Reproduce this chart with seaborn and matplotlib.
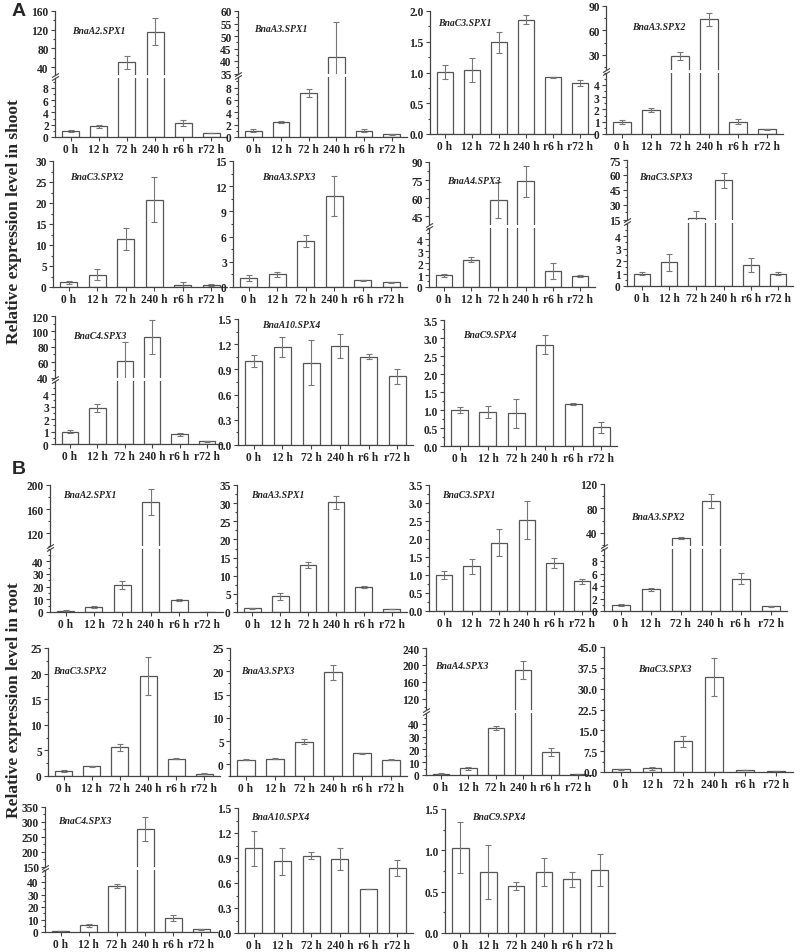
import numpy as np
import pandas as pd
import matplotlib
matplotlib.use("Agg")
import matplotlib.pyplot as plt
import seaborn as sns
from matplotlib.ticker import AutoMinorLocator, FormatStrFormatter

# ---- data ----
timepoints = ["0 h", "12 h", "72 h", "240 h", "r6 h", "r72 h"]

genes = ["BnaA2.SPX1", "BnaA3.SPX1", "BnaC3.SPX1", "BnaA3.SPX2",
         "BnaC3.SPX2", "BnaA3.SPX3", "BnaA4.SPX3", "BnaC3.SPX3",
         "BnaC4.SPX3", "BnaA10.SPX4", "BnaC9.SPX4"]

shoot_means = [
    [1.0, 1.75, 50, 116, 2.3, 0.65],
    [1.0, 2.4, 7.1, 41.5, 1.05, 0.45],
    [1.01, 1.04, 1.49, 1.86, 0.92, 0.83],
    [1.0, 1.95, 29, 74, 1.0, 0.38],
    [1.1, 2.9, 11.4, 20.8, 0.55, 0.5],
    [1.05, 1.5, 5.5, 10.85, 0.8, 0.55],
    [1.0, 2.3, 58.6, 74, 1.35, 0.92],
    [1.0, 1.9, 16.7, 54.5, 1.7, 1.0],
    [1.0, 2.9, 61.5, 93, 0.78, 0.22],
    [1.0, 1.17, 0.98, 1.18, 1.05, 0.82],
    [1.01, 0.95, 0.91, 2.81, 1.17, 0.52],
]
shoot_errs = [
    [0.2, 0.25, 14, 28, 0.5, 0.05],
    [0.25, 0.2, 0.7, 14, 0.2, 0.1],
    [0.12, 0.19, 0.17, 0.07, 0.01, 0.05],
    [0.15, 0.2, 5, 8, 0.18, 0.03],
    [0.3, 1.3, 2.7, 5.4, 0.6, 0.2],
    [0.35, 0.3, 0.75, 2.35, 0.05, 0.05],
    [0.12, 0.22, 15, 13, 0.7, 0.1],
    [0.12, 0.7, 6.5, 7.8, 0.55, 0.15],
    [0.12, 0.3, 24.5, 22, 0.1, 0.05],
    [0.07, 0.12, 0.27, 0.14, 0.03, 0.09],
    [0.08, 0.17, 0.4, 0.26, 0.02, 0.16],
]

root_means = [
    [1.0, 4.2, 21, 172, 9.2, 0.3],
    [1.0, 4.3, 13.0, 30.2, 6.9, 0.85],
    [1.0, 1.24, 1.9, 2.53, 1.33, 0.82],
    [1.0, 3.5, 31.5, 92, 5.2, 0.8],
    [1.0, 1.9, 5.6, 19.6, 3.4, 0.45],
    [1.0, 1.25, 4.9, 19.8, 2.4, 1.0],
    [1.0, 5.2, 37, 188, 18, 0.8],
    [1.0, 1.3, 11.1, 34.3, 0.7, 0.4],
    [1.0, 5.3, 37, 275, 11, 2.2],
    [1.02, 0.86, 0.93, 0.89, 0.53, 0.78],
    [1.03, 0.74, 0.57, 0.74, 0.65, 0.76],
]
root_errs = [
    [0.3, 0.7, 3.2, 21, 0.8, 0.05],
    [0.15, 0.9, 0.8, 1.8, 0.4, 0.1],
    [0.11, 0.2, 0.37, 0.52, 0.14, 0.08],
    [0.15, 0.25, 2, 12, 0.9, 0.08],
    [0.2, 0.1, 0.7, 3.7, 0.15, 0.05],
    [0.15, 0.05, 0.5, 1.6, 0.1, 0.05],
    [0.2, 1.2, 1.5, 21, 3, 0.1],
    [0.1, 0.6, 2, 6.9, 0.1, 0.05],
    [0.2, 1.5, 1.5, 40, 2.5, 0.5],
    [0.21, 0.16, 0.04, 0.13, 0.0, 0.1],
    [0.31, 0.33, 0.05, 0.17, 0.09, 0.19],
]

# ---- layout (pixel boxes: left, right, top, bottom) ----
W, H = 800, 953
shoot_boxes = [(55, 227, 12, 138), (238, 407, 12, 138), (430, 595, 12, 135), (606, 783, 7, 135),
               (53, 227, 162, 288), (233, 407, 162, 288), (429, 595, 163, 288), (627, 793, 161, 287),
               (55, 222, 317, 445), (238, 413, 320, 446), (444, 617, 321, 447)]
root_boxes = [(50, 223, 486, 613), (237, 407, 486, 613), (429, 597, 486, 612), (604, 787, 485, 612),
              (48, 220, 649, 777), (230, 407, 649, 777), (426, 593, 649, 776), (604, 793, 648, 773),
              (45, 217, 808, 933), (238, 413, 809, 934), (445, 615, 810, 934)]

shoot_axes = [
    dict(lo=(0, 9.7), lo_step=2, hi=(24, 160), hi_ticks=(40, 160, 40), brk=77),
    dict(lo=(0, 9.8), lo_step=2, hi=(35, 60), hi_ticks=(35, 60, 5), brk=76),
    dict(ylim=(0, 2.0), step=0.5, fmt="%.1f"),
    dict(lo=(0, 5), lo_step=1, hi=(12, 90), hi_ticks=(30, 90, 30), brk=72),
    dict(ylim=(0, 30), step=5),
    dict(ylim=(0, 15), step=3),
    dict(lo=(0, 5), lo_step=1, hi=(38, 90), hi_ticks=(45, 90, 15), brk=227),
    dict(lo=(0, 5.1), lo_step=1, hi=(15, 75), hi_ticks=(15, 75, 15), brk=222),
    dict(lo=(0, 5.1), lo_step=1, hi=(40, 120), hi_ticks=(40, 120, 20), brk=380),
    dict(ylim=(0, 1.5), step=0.3, fmt="%.1f"),
    dict(ylim=(0, 3.5), step=0.5, fmt="%.1f"),
]
root_axes = [
    dict(lo=(0, 50), lo_step=10, hi=(100, 200), hi_ticks=(120, 200, 40), brk=548),
    dict(ylim=(0, 35), step=5),
    dict(ylim=(0, 3.5), step=0.5, fmt="%.1f"),
    dict(lo=(0, 10), lo_step=2, hi=(19, 120), hi_ticks=(40, 120, 40), brk=548),
    dict(ylim=(0, 25), step=5),
    dict(ylim=(-2.5, 25), step=5, tick0=0),
    dict(lo=(0, 49), lo_step=10, hi=(94, 240), hi_ticks=(120, 240, 40), brk=712),
    dict(ylim=(0, 45), step=7.5, fmt="%.1f"),
    dict(lo=(0, 50), lo_step=10, hi=(150, 350), hi_ticks=(150, 350, 50), brk=869),
    dict(ylim=(0, 1.5), step=0.3, fmt="%.1f"),
    dict(ylim=(0, 1.5), step=0.5, fmt="%.1f"),
]

# gene label: (x in axes fraction, pixels below top of box)
shoot_labels = [(0.10, 20), (0.094, 18), (0.05, 12), (0.15, 21), (0.10, 16), (0.17, 16),
                (0.11, 19), (0.07, 17), (0.11, 20), (0.14, 6), (0.11, 15)]
root_labels = [(0.075, 10), (0.08, 10), (0.077, 10), (0.15, 33), (0.03, 23), (0.06, 23),
               (0.055, 18), (0.18, 22), (0.075, 14), (0.075, 9), (0.16, 8)]

AX_COLOR = "#444444"
BAR_EDGE = "#555555"
ERR_COLOR = "#777777"

sns.set_style("ticks")
plt.rcParams["font.family"] = ["Liberation Serif", "DejaVu Serif"]
plt.rcParams["font.weight"] = "bold"

fig = plt.figure(figsize=(W / 100, H / 100), dpi=100)


def px_axes(l, r, t, b):
    return fig.add_axes([l / W, 1 - b / H, (r - l) / W, (b - t) / H])


def draw_bars(ax, means, errs, base=0.0):
    df = pd.DataFrame({"time": timepoints, "value": means})
    sns.barplot(data=df, x="time", y="value", ax=ax, color="white",
                edgecolor=BAR_EDGE, linewidth=0.9, width=0.6,
                saturation=1, errorbar=None)
    if base != 0:
        for p in ax.patches:
            p.set_y(base)
            p.set_height(p.get_height() - base)
    ax.errorbar(np.arange(len(means)), means, yerr=errs, fmt="none",
                ecolor=ERR_COLOR, elinewidth=0.8, capsize=2, capthick=0.8)
    ax.set_xlim(-0.55, 5.55)
    ax.set_xlabel("")
    ax.set_ylabel("")


def style(ax, ylim, ticks, fmt, show_x=True):
    ax.set_ylim(*ylim)
    ax.set_yticks(ticks)
    ax.yaxis.set_major_formatter(FormatStrFormatter(fmt))
    ax.yaxis.set_minor_locator(AutoMinorLocator(2))
    ax.spines[["top", "right"]].set_visible(False)
    for s in ax.spines.values():
        s.set_color(AX_COLOR)
        s.set_linewidth(0.9)
    ax.tick_params(which="both", direction="out", color=AX_COLOR,
                   labelsize=8.3, pad=1.5, width=0.8)
    ax.tick_params(which="major", length=3)
    ax.tick_params(which="minor", length=1.5)
    ax.tick_params(axis="x", which="minor", bottom=False)
    ax.tick_params(axis="x", pad=1)
    if not show_x:
        ax.spines["bottom"].set_visible(False)
        ax.tick_params(axis="x", which="both", bottom=False, labelbottom=False)


def break_mark(ax, y):
    ax.plot([0], [y], transform=ax.transAxes, marker=[(-1, -0.6), (1, 0.6)],
            markersize=5, linestyle="none", color=AX_COLOR, mec=AX_COLOR,
            mew=0.8, clip_on=False)


def draw_panel(boxes, specs, labels, means_list, errs_list):
    for box, spec, lab, means, errs, gene in zip(boxes, specs, labels,
                                                  means_list, errs_list, genes):
        l, r, t, b = box
        if "brk" in spec:
            brk = spec["brk"]
            ax_lo = px_axes(l, r, brk + 1.5, b)
            ax_hi = px_axes(l, r, t, brk - 1.5)
            for ax in (ax_lo, ax_hi):
                draw_bars(ax, means, errs)
            step = spec["lo_step"]
            lo_ticks = np.arange(0, spec["lo"][1] - 0.5 * step, step)
            style(ax_lo, spec["lo"], lo_ticks, "%g")
            h0, h1, hs = spec["hi_ticks"]
            style(ax_hi, spec["hi"], np.arange(h0, h1 + hs / 2, hs), "%g", show_x=False)
            break_mark(ax_lo, 1.0)
            break_mark(ax_hi, 0.0)
        else:
            ax = px_axes(l, r, t, b)
            y0, y1 = spec["ylim"]
            draw_bars(ax, means, errs, base=min(0.0, y0))
            start = spec.get("tick0", y0)
            ticks = np.arange(start, y1 + spec["step"] / 2, spec["step"])
            style(ax, spec["ylim"], ticks, spec.get("fmt", "%g"))
        fx, dy = lab
        fig.text((l + fx * (r - l)) / W, 1 - (t + dy) / H, gene,
                 fontsize=7, fontstyle="italic", fontweight="bold",
                 ha="left", va="center")


draw_panel(shoot_boxes, shoot_axes, shoot_labels, shoot_means, shoot_errs)
draw_panel(root_boxes, root_axes, root_labels, root_means, root_errs)

fig.text(12 / W, 1 - 12 / H, "A", fontsize=14, fontweight="bold",
         family=["Liberation Sans", "DejaVu Sans"], ha="left", va="center")
fig.text(12 / W, 1 - 470 / H, "B", fontsize=14, fontweight="bold",
         family=["Liberation Sans", "DejaVu Sans"], ha="left", va="center")
fig.text(14 / W, 1 - 222 / H, "Relative expression level in shoot", rotation=90,
         fontsize=12.5, fontweight="bold", ha="center", va="center")
fig.text(14 / W, 1 - 700 / H, "Relative expression level in root", rotation=90,
         fontsize=12.5, fontweight="bold", ha="center", va="center")

fig.savefig("out.png", dpi=100, facecolor="white")
